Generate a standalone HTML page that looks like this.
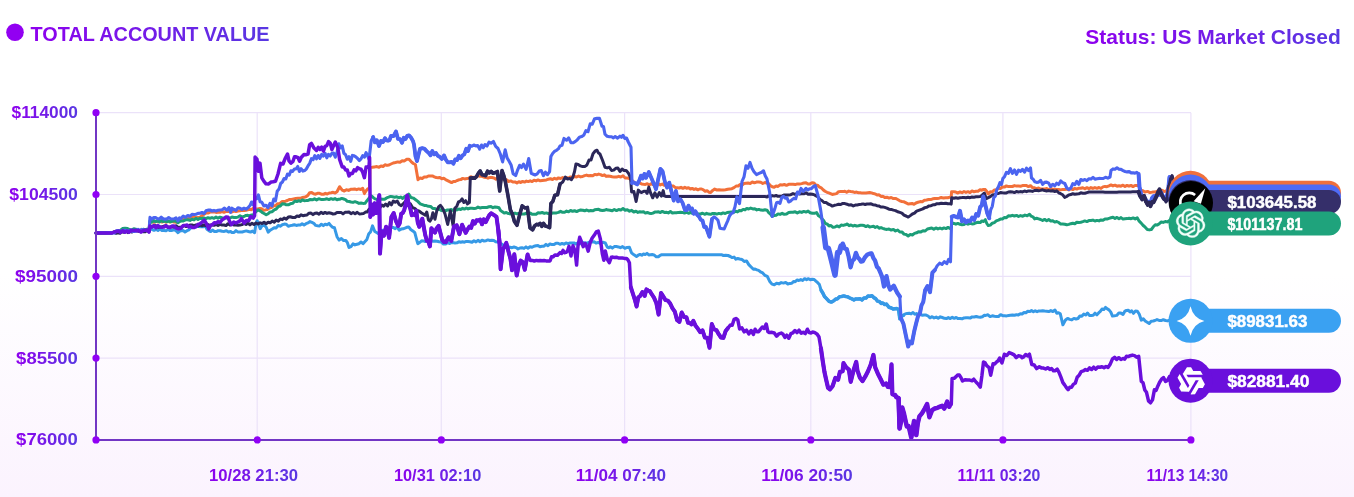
<!DOCTYPE html>
<html><head><meta charset="utf-8"><style>
html,body{margin:0;padding:0;width:1354px;height:497px;overflow:hidden;background:#fff;}
svg{display:block;}
text{font-family:"Liberation Sans",sans-serif;font-weight:bold;}
</style></head><body>
<svg width="1354" height="497" viewBox="0 0 1354 497">
<defs>
<linearGradient id="bg" x1="0" y1="0" x2="0" y2="1">
<stop offset="0" stop-color="#ffffff"/><stop offset="0.55" stop-color="#ffffff"/><stop offset="1" stop-color="#fbf3fe"/>
</linearGradient>
<linearGradient id="tg" x1="0" y1="0" x2="1" y2="0">
<stop offset="0" stop-color="#8e00ee"/><stop offset="1" stop-color="#5838e2"/>
</linearGradient>
</defs>
<rect width="1354" height="497" fill="url(#bg)"/>
<circle cx="15" cy="32.3" r="8.8" fill="#9200f2"/>
<text x="30.6" y="40.8" font-size="19.5" fill="url(#tg)" textLength="239" lengthAdjust="spacingAndGlyphs">TOTAL ACCOUNT VALUE</text>
<text x="1085.3" y="44" font-size="20.5" fill="url(#tg)" textLength="255.5" lengthAdjust="spacingAndGlyphs">Status: US Market Closed</text>
<g stroke="#ebe2f9" stroke-width="1.2"><line x1="96" y1="112.7" x2="1191" y2="112.7"/><line x1="96" y1="194.5" x2="1191" y2="194.5"/><line x1="96" y1="276.3" x2="1191" y2="276.3"/><line x1="96" y1="358.1" x2="1191" y2="358.1"/><line x1="257.2" y1="112.7" x2="257.2" y2="439.9"/><line x1="441.3" y1="112.7" x2="441.3" y2="439.9"/><line x1="624.6" y1="112.7" x2="624.6" y2="439.9"/><line x1="810.8" y1="112.7" x2="810.8" y2="439.9"/><line x1="1002.9" y1="112.7" x2="1002.9" y2="439.9"/><line x1="1190.9" y1="112.7" x2="1190.9" y2="439.9"/></g>
<g fill="url(#tg)" font-size="17"><text x="77.9" y="118.1" text-anchor="end" textLength="66.3" lengthAdjust="spacingAndGlyphs">$114000</text><text x="77.9" y="199.9" text-anchor="end" textLength="68.6" lengthAdjust="spacingAndGlyphs">$104500</text><text x="77.9" y="281.7" text-anchor="end" textLength="63.0" lengthAdjust="spacingAndGlyphs">$95000</text><text x="77.9" y="363.5" text-anchor="end" textLength="61.8" lengthAdjust="spacingAndGlyphs">$85500</text><text x="77.9" y="445.3" text-anchor="end" textLength="61.8" lengthAdjust="spacingAndGlyphs">$76000</text></g>
<g fill="url(#tg)" font-size="16.5"><text x="253.5" y="480.7" text-anchor="middle" textLength="89.0" lengthAdjust="spacingAndGlyphs">10/28 21:30</text><text x="437.6" y="480.7" text-anchor="middle" textLength="87.4" lengthAdjust="spacingAndGlyphs">10/31 02:10</text><text x="620.8" y="480.7" text-anchor="middle" textLength="90.3" lengthAdjust="spacingAndGlyphs">11/04 07:40</text><text x="807.0" y="480.7" text-anchor="middle" textLength="91.5" lengthAdjust="spacingAndGlyphs">11/06 20:50</text><text x="998.9" y="480.7" text-anchor="middle" textLength="82.8" lengthAdjust="spacingAndGlyphs">11/11 03:20</text><text x="1187.3" y="480.7" text-anchor="middle" textLength="81.6" lengthAdjust="spacingAndGlyphs">11/13 14:30</text></g>
<g fill="none" stroke-width="3.0" stroke-linejoin="round" stroke-linecap="round"><path d="M96.0 233.0L98.0 233.0L100.0 233.0L102.0 233.0L104.0 233.0L106.0 233.0L108.0 233.0L110.0 233.0L112.0 233.0L114.0 232.3L116.0 232.8L118.0 231.9L120.0 231.8L122.0 231.1L124.0 231.1L126.0 231.0L128.0 231.4L130.0 231.3L131.9 231.3L133.8 230.1L135.7 230.9L137.6 229.7L139.5 230.8L141.4 229.3L143.3 230.3L145.2 229.5L147.1 230.4L149.0 230.0L150.0 229.2L152.0 229.3L154.0 230.3L156.0 229.3L158.0 230.4L160.0 229.0L162.0 230.6L164.0 230.6L166.0 230.8L168.0 229.5L170.0 230.6L172.0 230.4L174.0 229.6L176.0 230.6L178.0 232.6L179.5 231.3L181.0 230.7L183.0 230.4L185.0 232.0L187.0 230.7L189.0 229.8L191.5 227.3L194.0 225.9L196.2 225.7L198.5 226.6L200.8 226.7L203.0 226.8L205.2 225.8L207.0 229.3L208.8 230.6L210.7 231.6L212.5 230.1L214.4 231.4L216.3 231.6L218.1 230.7L220.0 230.7L222.1 231.3L224.2 231.4L226.4 230.7L228.5 232.0L230.6 231.5L232.0 232.6L234.0 232.5L236.0 230.6L238.1 232.1L240.1 231.9L242.2 232.0L244.3 231.4L246.3 230.9L248.4 231.5L250.5 232.1L252.5 231.1L254.6 232.7L256.0 223.6L257.1 220.7L258.6 224.2L260.2 228.7L262.2 225.5L264.2 225.2L266.2 227.2L268.2 232.1L270.2 230.2L272.2 229.0L274.2 227.7L276.2 227.9L278.2 225.5L280.2 226.2L282.3 224.7L284.3 224.1L286.3 224.2L288.3 226.3L290.3 225.6L292.3 225.2L294.3 224.7L296.3 225.4L298.3 225.1L300.2 225.1L302.1 223.7L304.1 225.0L306.0 223.7L308.0 222.9L310.0 221.6L311.9 222.4L313.8 223.3L315.7 225.4L317.6 225.8L319.5 226.0L321.4 224.2L323.3 225.6L325.2 224.2L327.1 224.7L329.0 223.4L330.8 225.7L332.7 227.3L334.5 227.8L337.0 236.7L339.2 240.1L341.4 238.6L343.6 240.6L345.8 240.5L347.4 242.7L349.0 247.5L351.0 246.6L353.0 243.8L355.0 244.9L357.0 244.3L359.0 243.7L361.0 242.0L363.0 243.7L365.0 241.5L366.9 239.4L368.8 233.7L370.6 231.9L372.5 225.9L374.8 231.5L377.0 232.7L378.9 233.9L380.8 231.4L382.7 230.3L384.6 230.8L386.7 228.7L388.8 227.8L391.0 227.4L393.1 227.4L395.2 228.6L397.2 226.9L399.2 230.1L401.2 229.1L403.1 228.8L404.9 228.1L406.8 227.3L408.7 226.9L410.7 229.5L412.8 230.9L414.8 232.7L416.3 238.4L417.8 243.7L419.7 242.5L421.6 240.8L423.4 240.9L425.3 241.6L427.2 240.6L429.2 240.3L431.1 240.6L433.1 241.2L435.0 241.1L437.1 241.2L439.2 241.7L441.4 242.1L443.5 244.1L445.6 244.1L447.5 242.6L449.4 243.5L451.3 242.7L453.1 242.6L455.0 243.0L456.9 242.8L458.8 241.8L460.7 242.3L462.6 241.8L464.4 242.2L466.3 241.4L468.1 241.5L470.0 241.7L472.0 242.3L474.0 240.8L476.0 241.9L478.0 240.3L480.0 241.8L482.0 240.2L484.0 241.0L486.0 240.7L487.9 239.9L489.9 240.5L491.8 240.2L493.8 240.5L495.7 241.7L497.8 242.0L499.9 243.3L502.0 244.1L504.0 246.0L506.0 245.0L508.0 246.7L510.0 247.2L512.0 247.7L514.0 247.0L516.0 247.6L518.0 248.9L520.0 248.0L522.0 247.7L524.0 248.4L526.0 246.9L528.0 248.2L530.0 246.8L532.0 247.3L534.0 246.2L536.0 245.7L538.0 245.6L540.0 246.7L542.0 246.3L544.0 246.2L546.0 244.4L548.0 245.7L550.0 243.9L552.0 244.6L554.0 244.6L556.0 243.2L558.0 243.2L560.0 244.3L562.0 243.4L564.0 244.2L566.0 242.9L568.0 243.6L570.0 243.0L572.0 242.9L574.0 242.9L576.0 244.1L578.0 242.7L580.0 243.8L582.0 242.3L584.0 242.9L586.0 242.9L588.0 242.7L590.0 241.9L592.1 241.9L594.1 241.8L596.2 243.1L598.2 242.4L600.3 243.4L602.8 242.3L605.3 243.0L607.3 247.1L608.8 247.8L610.3 246.8L612.3 248.1L614.3 246.6L616.4 246.6L618.4 246.9L620.4 247.7L622.6 246.6L624.9 248.3L627.1 247.4L629.4 247.2L631.5 252.8L634.0 254.8L636.5 256.4L638.2 255.2L640.0 254.4L641.8 255.2L643.5 254.0L645.2 254.6L647.0 253.4L648.8 254.9L650.5 254.7L652.2 254.6L654.0 254.9L656.3 256.8L658.6 256.7L659.7 255.6L661.7 254.7L663.7 254.7L665.7 254.7L667.7 254.7L669.7 254.7L671.6 254.7L673.6 254.7L675.6 254.7L677.6 254.7L679.6 254.7L681.6 254.7L683.6 254.7L685.6 254.7L687.6 254.7L689.6 254.7L691.5 254.7L693.5 254.7L695.5 254.7L697.5 254.7L699.5 254.7L701.5 254.7L703.5 254.7L705.5 254.7L707.5 254.7L709.5 254.7L711.5 254.7L713.4 254.7L715.4 254.7L717.4 254.7L719.4 254.7L721.4 254.7L723.4 255.5L725.7 255.3L728.0 255.5L730.3 256.5L732.2 257.6L734.0 257.1L735.9 259.2L737.7 258.5L739.6 259.0L741.9 259.4L744.2 261.5L746.5 260.9L748.8 264.6L751.1 267.0L753.4 269.3L755.1 269.0L756.9 269.9L758.6 270.4L760.4 271.8L762.7 272.9L765.0 275.4L767.3 276.4L769.6 281.2L772.0 284.1L774.3 284.7L776.6 283.2L778.9 283.9L781.2 282.6L783.5 283.1L785.7 282.4L787.8 284.0L790.0 283.4L791.8 283.3L793.5 281.6L795.2 281.8L797.0 280.0L798.9 280.5L800.8 279.6L802.7 280.5L804.6 278.7L806.6 279.7L808.5 278.7L810.4 279.8L812.3 279.3L814.2 279.5L815.9 281.1L817.7 282.7L819.4 284.6L821.1 290.3L822.8 293.0L824.5 296.5L826.8 298.9L829.0 301.3L831.3 302.1L833.4 301.0L835.4 299.3L837.5 298.7L839.5 296.7L841.6 296.5L843.7 295.9L845.7 296.5L847.8 296.9L849.8 298.0L851.9 298.9L853.9 299.9L855.9 298.9L858.0 298.9L860.0 298.7L862.0 299.9L864.0 297.9L866.0 298.1L868.0 296.0L870.0 296.3L872.0 295.8L873.8 297.6L875.6 298.6L877.5 301.1L879.3 301.5L881.1 303.4L882.9 303.1L884.7 304.5L886.5 304.1L889.0 307.3L891.4 308.0L893.2 309.1L895.0 308.8L896.8 308.6L898.6 309.4L899.8 318.7L901.6 316.0L903.4 315.3L905.3 313.9L907.2 313.4L909.2 313.2L911.1 313.9L913.0 312.5L914.8 314.3L916.6 313.5L918.5 314.5L920.3 314.0L922.2 315.2L924.2 315.0L926.1 315.1L928.1 316.0L930.0 317.8L932.1 316.7L934.1 317.9L936.2 317.1L938.2 318.3L940.3 316.8L942.3 317.5L944.4 318.3L946.4 318.6L948.3 317.6L950.3 318.6L952.3 317.3L954.2 318.3L956.2 317.5L958.1 318.6L960.1 318.5L962.1 318.8L964.0 317.9L966.0 317.8L968.0 317.7L970.1 318.1L972.1 316.9L974.2 317.0L976.2 316.5L978.3 317.0L980.3 317.2L982.4 316.7L984.4 315.2L985.8 315.4L988.0 314.8L990.1 316.6L992.3 315.8L994.4 316.3L996.5 316.6L998.5 316.5L1000.6 314.7L1002.7 315.7L1004.7 315.8L1006.6 315.9L1008.6 315.5L1010.5 315.2L1012.5 314.9L1014.5 315.2L1016.4 314.7L1018.4 314.9L1020.3 313.8L1022.1 314.0L1024.0 312.5L1025.9 312.7L1027.8 311.2L1029.6 311.6L1031.5 310.6L1033.4 311.8L1035.2 310.8L1037.1 311.7L1039.0 310.9L1040.9 311.1L1042.7 310.8L1044.6 311.1L1046.7 311.3L1048.8 311.6L1050.8 310.6L1052.9 311.5L1055.0 310.0L1056.8 313.2L1058.5 312.7L1060.3 313.8L1062.9 324.8L1065.5 320.0L1067.6 318.4L1069.7 319.4L1071.8 319.9L1073.9 318.4L1076.0 319.0L1078.0 318.5L1079.9 315.9L1081.8 316.3L1083.8 314.1L1085.7 315.0L1087.5 313.0L1089.4 315.4L1091.3 315.4L1093.2 315.2L1095.0 313.2L1096.9 314.8L1098.6 312.9L1100.3 311.4L1102.0 309.0L1103.8 309.6L1105.5 307.4L1107.3 308.9L1109.0 309.8L1110.8 312.1L1112.5 316.1L1114.6 315.8L1116.7 315.4L1118.8 313.1L1120.9 313.1L1123.0 314.4L1124.7 311.4L1126.5 310.4L1128.2 310.2L1130.0 311.9L1131.7 310.8L1133.5 313.3L1135.5 311.1L1137.4 311.2L1139.3 314.3L1141.3 320.2L1143.3 318.8L1145.2 321.0L1147.2 322.2L1149.2 323.5L1151.2 321.2L1153.1 321.0L1155.0 320.5L1157.0 319.6L1159.1 320.4L1161.2 320.6L1163.3 319.7L1165.4 320.5L1167.5 320.9L1169.4 320.3L1171.2 320.6L1173.1 320.7L1175.0 319.6" stroke="#3699e6"/><path d="M821.1 290.3L822.8 293.0L824.5 296.5L826.8 298.9L829.0 301.3L831.3 302.1L833.4 301.0L835.4 299.3L837.5 298.7L839.5 296.7L841.6 296.5L843.7 295.9L845.7 296.5L847.8 296.9L849.8 298.0L851.9 298.9L853.9 299.9L855.9 298.9L858.0 298.9L860.0 298.7L862.0 299.9L864.0 297.9L866.0 298.1L868.0 296.0L870.0 296.3L872.0 295.8L873.8 297.6L875.6 298.6L877.5 301.1L879.3 301.5L881.1 303.4L882.9 303.1L884.7 304.5L886.5 304.1L889.0 307.3L891.4 308.0L893.2 309.1L895.0 308.8L896.8 308.6L898.6 309.4L899.8 318.7L901.6 316.0L903.4 315.3" stroke="#3699e6" stroke-width="3.5"/><path d="M96.0 233.0L98.0 232.9L100.0 232.9L102.0 232.8L104.0 232.8L106.0 232.7L108.0 232.6L110.0 232.6L112.0 232.5L114.0 232.1L116.0 231.6L118.0 231.3L120.0 231.8L122.0 231.1L124.0 230.5L126.0 230.4L128.0 230.1L130.0 230.1L131.9 230.8L133.8 230.2L135.7 230.5L137.6 229.7L139.5 230.9L141.4 229.9L143.3 230.5L145.2 229.7L147.1 230.5L149.0 229.7L150.0 221.7L152.0 221.3L154.0 222.3L156.0 221.3L158.0 221.9L160.0 221.0L162.0 222.1L164.0 220.9L166.0 222.2L168.0 221.0L170.0 222.1L172.0 221.3L174.0 222.1L176.0 222.3L178.5 220.1L181.0 219.7L183.2 219.0L185.5 218.7L187.8 218.7L190.0 217.4L192.0 217.2L194.0 216.8L196.0 217.7L198.0 217.4L200.0 217.2L202.0 215.8L204.0 214.3L206.0 212.9L208.0 213.1L210.0 212.1L212.0 212.1L214.0 211.9L216.0 212.4L218.0 212.2L220.0 212.3L222.0 211.5L224.0 212.3L226.0 211.4L228.0 211.6L230.0 211.4L232.0 212.0L234.0 211.1L236.0 211.5L238.0 211.0L240.0 210.8L242.0 210.3L244.0 210.5L246.0 210.2L247.8 209.8L249.5 209.1L251.2 209.8L253.0 208.3L255.5 209.0L258.0 209.0L259.8 208.4L261.6 208.8L263.5 210.2L265.3 209.9L267.3 209.5L269.4 208.1L271.4 207.5L273.5 205.8L275.5 205.8L277.7 203.7L279.8 203.6L282.0 201.5L283.8 201.6L285.6 201.2L287.4 200.5L289.2 199.6L291.4 199.4L293.6 199.0L295.8 198.6L298.0 198.3L300.1 198.3L302.1 197.6L304.2 197.3L306.3 196.5L308.0 195.2L309.7 192.7L311.7 192.6L313.6 193.8L315.6 194.2L317.5 193.3L319.5 193.3L321.4 194.2L323.4 194.3L325.3 193.3L327.3 194.0L329.2 193.0L331.2 192.7L333.1 192.3L335.1 193.0L337.0 191.8L339.6 186.7L342.2 190.1L344.3 191.0L346.4 189.7L348.6 190.4L350.7 189.3L352.7 189.3L354.7 189.0L356.7 189.7L358.7 188.9L360.7 189.5L362.7 188.3L364.4 193.6L366.1 190.7L367.8 188.8L369.5 188.9L370.0 167.4L372.2 167.3L374.5 166.9L376.8 166.6L379.0 167.3L381.0 165.9L383.0 166.5L385.0 164.8L387.0 165.4L389.0 165.0L391.0 164.0L393.2 163.0L395.5 162.5L397.8 161.9L400.0 162.3L402.2 160.7L404.5 160.9L406.8 159.2L409.0 159.3L411.1 161.6L413.3 163.5L415.4 164.5L418.0 179.7L420.1 178.0L422.2 178.5L424.2 177.1L426.3 177.1L428.4 176.0L430.5 176.1L432.4 175.9L434.3 176.8L436.2 177.5L438.1 177.7L439.9 177.4L441.8 178.7L443.7 178.3L445.6 179.6L447.6 180.6L449.6 181.6L451.6 182.6L453.4 181.5L455.2 181.5L457.1 180.5L458.9 179.8L460.7 179.6L462.7 178.4L464.7 178.9L466.8 178.6L468.8 178.2L470.8 176.7L472.8 177.6L474.6 177.3L476.4 177.1L478.2 175.6L480.0 176.3L482.0 176.3L484.0 177.2L486.0 177.4L488.0 178.2L490.0 177.4L492.0 177.6L494.0 177.9L496.0 179.2L498.0 178.4L500.0 179.2L502.0 178.7L504.2 179.3L506.3 179.6L508.5 181.5L510.7 180.9L512.8 182.0L515.0 181.9L516.9 182.9L518.8 181.7L520.7 182.5L522.6 181.4L524.5 182.1L526.4 181.1L528.3 181.6L530.2 180.8L532.1 181.6L534.0 180.2L536.1 180.9L538.1 179.9L540.2 180.8L542.2 180.5L544.3 180.2L546.4 179.9L548.4 179.2L550.5 178.7L552.5 179.6L554.5 178.3L556.5 179.1L558.5 177.9L560.6 178.5L562.6 177.6L564.6 178.0L566.6 177.8L568.6 178.1L570.6 176.9L572.6 177.6L574.6 176.5L576.6 177.0L578.6 176.0L580.6 176.9L582.6 176.5L584.6 175.6L586.6 175.1L588.6 175.8L590.7 175.6L592.7 175.7L594.7 174.4L596.7 174.8L598.7 174.1L600.6 174.6L602.5 175.6L604.4 174.8L606.2 176.4L608.1 176.0L610.0 176.2L612.2 176.7L614.3 177.1L616.5 177.1L618.7 176.3L620.8 177.0L623.0 175.8L625.2 178.0L627.4 178.0L629.6 178.5L631.7 180.1L633.9 182.2L636.0 183.6L637.9 183.4L639.8 182.9L641.7 184.1L643.5 184.3L645.4 184.4L647.3 183.7L649.2 184.9L651.1 183.7L652.9 184.6L654.8 185.0L656.7 184.9L658.6 183.8L660.4 184.9L662.3 184.0L664.2 185.3L666.0 184.5L667.9 186.1L669.8 185.5L671.7 185.9L673.5 186.1L675.4 187.6L677.3 187.8L679.1 188.0L681.0 187.3L682.9 188.3L684.8 187.3L686.6 188.3L688.5 187.7L690.4 189.0L692.2 188.4L694.1 189.4L696.0 188.8L697.9 189.8L699.7 189.0L701.6 189.0L703.4 189.8L705.2 191.3L707.1 190.7L708.9 192.2L710.7 192.4L712.7 190.4L714.7 189.1L716.9 190.0L719.0 189.8L721.2 189.9L723.4 190.1L725.5 189.8L727.7 189.3L729.8 189.0L731.9 188.7L734.0 187.6L736.1 186.1L738.2 186.0L740.2 184.4L742.1 185.0L744.0 183.5L746.0 183.2L748.1 183.1L750.2 183.4L752.3 182.0L754.4 182.8L756.5 182.1L758.6 181.9L760.7 182.2L762.8 183.5L764.9 182.5L767.0 183.2L768.7 183.6L770.5 185.8L772.2 186.7L774.2 187.3L776.1 186.1L778.0 186.4L780.0 184.8L782.2 185.1L784.3 184.5L786.5 185.3L788.7 184.3L790.8 184.3L793.0 184.3L795.2 184.6L797.3 183.9L799.5 184.1L801.7 183.6L803.8 183.0L806.0 182.8L808.0 184.1L810.0 183.9L812.0 182.8L814.0 183.0L815.7 184.9L817.5 185.2L819.2 186.8L821.2 187.8L823.1 189.7L825.0 191.2L827.0 192.3L828.8 192.9L830.5 193.6L832.3 194.4L834.4 194.1L836.5 193.6L838.6 191.7L840.7 191.6L842.8 191.6L844.8 191.2L846.7 192.3L848.7 191.1L850.6 191.5L852.6 191.8L854.6 192.4L856.5 192.1L858.5 192.7L860.4 192.7L862.2 193.1L864.1 193.1L866.0 193.1L867.9 192.8L869.7 192.5L871.6 192.9L873.5 193.6L875.3 193.9L877.2 195.1L879.1 194.8L881.0 196.4L882.8 196.3L884.7 197.4L886.9 197.2L889.0 198.1L891.2 197.5L893.4 198.6L895.5 198.4L897.7 199.5L899.8 200.8L901.9 201.5L904.0 201.8L906.1 202.9L908.2 204.0L910.2 203.7L912.1 203.4L914.0 204.3L916.0 203.0L918.1 202.2L920.2 201.6L922.3 201.7L924.4 200.3L926.5 200.0L928.6 199.5L930.7 199.6L932.8 198.8L934.9 198.5L937.0 198.4L939.2 198.2L941.3 197.5L943.5 198.1L945.7 197.7L947.8 197.8L950.0 197.1L951.2 197.5L951.6 191.7L953.7 191.8L955.8 192.1L957.9 193.0L960.0 191.9L962.0 192.7L964.0 191.5L966.0 192.4L968.0 191.7L970.0 192.6L972.0 190.9L974.0 191.8L976.0 191.3L978.0 191.2L980.0 189.8L981.8 190.2L983.5 189.4L985.3 189.6L986.8 191.5L988.3 193.9L990.3 191.8L992.3 191.9L994.3 190.0L996.3 189.7L998.4 188.3L1000.4 188.5L1002.4 187.0L1004.4 187.1L1006.4 185.9L1008.4 186.6L1010.4 186.6L1012.4 186.5L1014.5 185.6L1016.5 186.1L1018.5 186.1L1020.5 186.2L1022.5 185.6L1024.5 185.5L1026.5 185.6L1028.5 186.6L1030.5 185.7L1032.5 187.6L1034.6 187.8L1036.6 188.6L1038.6 188.0L1040.6 189.0L1042.7 189.0L1044.7 189.1L1046.7 188.5L1048.7 189.8L1050.7 188.6L1052.7 189.2L1054.7 189.2L1056.7 189.4L1058.7 189.4L1060.7 189.9L1062.7 189.4L1064.7 189.5L1066.8 189.1L1068.8 190.0L1070.8 188.8L1072.8 189.6L1074.8 188.4L1076.8 189.1L1078.8 188.2L1080.8 188.3L1082.8 187.7L1084.8 188.8L1086.9 187.7L1088.9 188.7L1090.9 187.6L1092.9 188.4L1094.9 187.6L1097.0 188.3L1099.0 187.5L1101.0 188.4L1103.0 186.9L1105.0 186.4L1107.0 186.7L1109.0 185.9L1111.0 184.9L1113.0 185.9L1115.0 185.2L1117.0 186.2L1119.0 185.8L1121.0 186.2L1123.0 185.2L1125.0 186.5L1127.0 185.4L1129.0 186.2L1131.0 185.4L1133.0 186.6L1135.0 185.5L1137.0 185.6L1139.0 185.5L1140.0 191.1L1142.5 190.6L1145.0 192.0L1147.5 191.4L1150.0 192.6L1152.5 192.1L1155.0 192.1L1157.5 191.0L1160.0 191.5L1162.0 190.3L1164.0 191.4L1166.0 191.3L1168.0 188.4L1170.0 184.2L1172.0 185.1L1174.0 184.6L1176.0 186.2" stroke="#f2703a"/><path d="M96.0 233.0L98.0 232.9L100.0 232.9L102.0 232.8L104.0 232.8L106.0 232.7L108.0 232.6L110.0 232.6L112.0 232.5L114.0 232.1L116.0 231.5L118.0 230.9L120.0 230.7L122.5 228.6L125.0 228.3L127.5 228.6L130.0 229.9L131.9 229.9L133.8 228.8L135.7 229.2L137.6 230.0L139.5 230.4L141.4 230.5L143.3 229.2L145.2 229.9L147.1 229.1L149.0 230.5L150.0 220.9L151.9 222.1L153.8 220.5L155.6 221.7L157.5 221.0L159.4 222.0L161.2 220.6L163.1 221.6L165.0 221.0L166.8 221.7L168.7 221.1L170.5 221.8L172.3 221.2L174.2 220.8L176.0 221.2L178.0 222.7L179.5 221.6L181.0 221.0L183.2 221.0L185.5 219.8L187.8 219.7L190.0 220.4L192.0 219.2L194.0 219.9L196.0 218.3L198.0 219.6L200.0 218.3L202.0 218.7L204.0 218.0L206.0 218.7L208.0 217.7L210.0 218.2L212.0 217.6L214.0 218.3L216.0 217.1L218.0 218.2L220.0 217.2L222.0 217.8L224.0 218.3L226.0 218.1L228.0 218.0L230.0 218.0L232.0 217.1L234.0 217.4L236.0 217.5L238.0 217.1L240.0 215.8L242.0 217.0L244.0 216.5L246.0 215.4L247.8 215.3L249.5 216.0L251.2 214.9L253.0 215.3L254.7 213.1L256.4 211.2L258.1 209.8L261.0 211.3L262.7 212.8L264.5 213.8L266.2 214.8L268.2 213.7L270.2 211.9L272.2 211.7L274.2 209.8L276.2 209.0L278.2 206.7L280.3 206.0L282.3 203.8L284.3 203.9L286.3 204.8L288.3 204.8L290.3 203.8L292.6 203.3L295.0 201.0L296.8 201.6L298.7 200.7L300.5 201.5L302.3 199.9L304.2 200.7L306.0 200.6L308.1 200.4L310.2 199.5L312.4 199.8L314.5 198.8L316.6 199.9L318.8 198.7L320.9 199.4L323.0 199.4L325.0 199.3L327.0 198.8L329.0 199.6L331.0 198.7L333.0 199.4L335.0 198.6L337.0 199.7L338.5 199.3L340.0 199.2L341.8 198.4L343.7 199.0L345.5 199.6L347.3 201.3L349.2 201.5L351.0 202.0L353.0 202.4L355.0 201.7L357.0 202.4L359.0 203.4L361.0 203.0L363.0 203.4L365.0 203.3L367.0 200.7L369.0 198.3L371.0 195.8L373.0 197.3L375.0 198.9L377.0 199.4L378.9 200.4L380.8 199.0L382.7 199.2L384.6 199.3L386.6 197.9L388.6 197.2L390.6 196.4L392.6 196.8L394.7 197.2L396.7 196.8L398.7 197.7L400.7 197.1L402.7 198.5L404.7 196.6L406.7 196.4L408.7 194.2L411.0 197.5L413.3 198.1L415.6 199.7L417.8 201.4L420.1 203.8L422.3 204.6L424.3 205.4L426.4 205.6L428.4 206.3L430.6 206.4L432.8 208.5L435.0 208.5L437.1 209.8L439.2 209.2L441.4 210.6L443.5 210.0L445.6 210.9L447.5 209.9L449.4 209.9L451.3 209.5L453.1 210.5L455.0 208.8L456.9 209.9L458.8 209.0L460.7 209.5L462.6 208.3L464.4 209.1L466.3 208.0L468.1 208.9L470.0 208.3L472.0 208.3L474.0 208.4L476.0 208.2L478.0 207.1L480.0 207.9L482.2 207.6L484.5 207.6L486.8 207.5L489.0 206.8L491.0 206.6L493.0 207.7L495.0 206.9L497.0 207.2L499.0 207.8L500.5 210.4L502.0 211.6L504.2 213.1L506.3 212.5L508.5 213.6L510.7 213.9L512.8 213.7L515.0 213.1L516.9 213.8L518.8 213.4L520.7 214.0L522.6 214.1L524.5 214.0L526.4 213.2L528.3 214.2L530.2 213.1L532.1 214.3L534.0 214.2L536.1 214.2L538.1 212.8L540.2 213.0L542.2 212.5L544.3 213.4L546.4 212.9L548.4 213.7L550.5 213.8L552.5 213.1L554.5 213.0L556.5 212.9L558.5 212.4L560.6 211.3L562.6 212.3L564.6 212.2L566.6 211.1L568.6 211.8L570.6 210.5L572.6 211.3L574.6 210.7L576.6 211.6L578.6 210.6L580.6 210.0L582.7 210.2L584.7 210.8L586.7 210.0L588.7 210.9L590.7 210.6L592.7 210.8L594.7 209.8L596.7 209.5L598.7 209.3L600.6 210.3L602.5 210.6L604.4 210.3L606.2 209.5L608.1 210.1L610.0 210.2L612.2 210.8L614.3 209.5L616.5 210.6L618.7 209.5L620.8 210.1L623.0 208.5L625.2 210.2L627.3 209.7L629.5 211.2L631.7 210.3L633.8 212.0L636.0 211.3L637.9 212.4L639.8 211.7L641.7 211.9L643.5 211.7L645.4 213.1L647.3 212.5L649.2 213.2L651.1 213.5L652.9 213.1L654.8 212.1L656.7 212.1L658.6 211.8L660.4 212.5L662.3 211.4L664.3 212.4L666.3 212.3L668.3 212.9L670.4 211.5L672.4 213.0L674.4 212.8L676.4 212.8L678.4 212.4L680.4 212.3L682.5 212.4L684.5 213.1L686.5 212.2L688.5 213.3L690.5 212.3L692.5 213.4L694.5 212.5L696.6 213.6L698.6 213.9L700.6 214.0L702.6 213.2L704.6 214.3L706.6 213.3L708.7 214.1L710.7 214.3L712.7 213.4L714.7 213.5L716.8 214.1L718.9 213.4L721.0 213.9L723.1 212.9L725.2 213.5L727.2 212.5L729.3 212.2L731.4 212.0L733.5 212.5L735.6 211.3L737.5 211.9L739.3 210.5L741.2 210.8L743.1 209.4L745.0 209.9L746.8 208.4L748.7 209.0L750.7 208.1L752.8 208.9L754.8 208.7L756.8 209.9L758.9 209.4L760.9 210.1L762.9 210.3L765.0 209.8L767.0 210.2L768.7 212.6L770.5 214.2L772.2 216.4L774.2 215.5L776.1 215.2L778.0 213.9L780.0 214.4L782.2 213.3L784.3 214.3L786.5 214.0L788.7 212.6L790.8 212.3L793.0 212.3L795.2 211.8L797.3 212.9L799.5 211.8L801.7 212.4L803.8 211.4L806.0 212.1L808.1 211.1L810.2 212.7L812.4 213.3L814.5 213.3L816.6 212.6L818.4 215.7L820.1 216.6L821.9 218.7L823.6 220.6L825.3 223.6L827.0 223.9L829.0 225.9L831.0 225.6L833.0 227.3L835.0 227.0L837.1 225.9L839.2 226.9L841.2 225.0L843.3 225.4L845.4 224.8L847.3 224.0L849.1 225.7L851.0 225.0L852.9 226.0L854.8 225.3L856.6 226.0L858.5 225.7L860.4 225.2L862.2 225.3L864.1 225.6L866.0 226.6L867.9 225.7L869.7 227.0L871.6 226.6L873.5 226.2L875.3 227.4L877.2 226.5L879.1 228.2L881.0 227.6L882.8 228.4L884.7 229.0L886.9 229.4L889.0 229.0L891.2 230.1L893.4 229.4L895.5 231.0L897.7 230.0L899.8 232.0L901.9 231.9L904.0 234.1L906.1 234.5L908.2 236.0L910.3 234.4L912.4 235.0L914.5 233.4L916.6 232.8L918.7 231.7L920.9 231.9L923.0 230.7L925.2 231.0L927.4 229.0L929.5 228.5L931.7 228.0L933.8 229.3L935.9 227.9L937.9 228.9L940.0 228.1L942.0 228.9L944.0 227.9L946.0 228.6L948.0 227.4L950.0 228.5L951.2 227.4L951.7 223.9L953.8 223.3L955.9 224.2L957.9 223.4L960.0 224.3L962.0 224.7L964.0 224.6L966.0 223.3L968.0 224.2L970.0 223.3L972.0 223.9L974.1 223.7L976.1 222.7L978.2 222.2L980.2 222.6L981.9 220.9L983.6 221.5L985.3 219.7L986.8 223.5L988.3 225.6L990.3 225.1L992.3 223.2L994.3 222.6L996.3 220.9L998.4 220.1L1000.4 219.1L1002.4 218.9L1004.4 217.6L1006.4 217.7L1008.4 215.8L1010.4 216.0L1012.4 215.3L1014.4 216.0L1016.5 215.4L1018.5 216.5L1020.5 215.6L1022.8 216.2L1025.0 215.1L1027.2 215.7L1029.5 214.2L1031.2 216.2L1032.9 216.8L1034.6 218.9L1036.6 218.3L1038.6 218.9L1040.6 219.5L1042.6 220.5L1044.6 219.4L1046.7 220.7L1048.7 219.6L1050.7 221.0L1052.7 220.8L1054.7 222.1L1056.7 221.5L1058.7 222.5L1060.7 224.1L1062.7 223.9L1064.8 224.2L1066.8 224.8L1068.8 224.4L1070.8 223.7L1072.8 223.2L1074.8 223.8L1076.8 222.3L1078.8 222.5L1080.8 222.2L1082.8 221.6L1084.8 220.9L1086.9 221.6L1088.9 220.6L1090.9 220.5L1092.9 220.1L1094.9 221.0L1097.0 220.4L1099.0 220.9L1101.0 219.9L1103.0 220.2L1105.0 218.9L1107.0 219.1L1109.0 218.4L1111.0 217.8L1113.0 217.2L1115.0 218.5L1117.0 217.4L1119.0 218.7L1121.0 217.6L1123.0 219.1L1125.0 218.8L1127.1 218.6L1129.1 218.2L1131.1 218.7L1133.2 217.9L1135.2 218.9L1137.2 217.8L1139.2 221.2L1141.2 223.1L1143.2 225.5L1145.2 227.2L1147.3 229.5L1149.3 229.9L1151.3 229.5L1153.3 226.8L1155.3 224.8L1157.3 225.1L1159.3 223.7L1161.3 222.0L1163.3 222.4L1165.3 221.5L1167.4 221.9L1169.4 220.6L1171.3 221.8L1173.1 221.2L1175.0 222.5" stroke="#1c9e78"/><path d="M96.0 233.0L98.0 233.0L100.0 233.0L102.0 233.0L104.0 233.0L106.0 233.0L108.0 233.0L110.0 233.0L112.0 233.0L114.0 231.9L116.0 233.3L118.0 232.8L120.0 233.2L122.0 231.8L124.0 232.2L126.0 230.9L128.0 232.6L130.0 231.3L131.9 232.0L133.8 230.6L135.7 230.5L137.6 231.0L139.5 231.5L141.4 230.4L143.3 231.7L145.2 231.7L147.1 230.3L149.0 231.7L150.0 227.1L152.0 226.3L154.0 225.6L156.0 225.7L158.0 227.2L160.0 226.9L162.0 226.9L164.0 226.0L166.0 226.0L168.0 227.2L170.0 227.1L172.0 227.1L174.0 226.9L176.0 225.7L178.0 227.4L180.0 227.2L182.0 227.0L184.0 225.2L186.0 226.6L188.0 226.1L190.0 225.0L192.0 225.0L194.0 225.6L196.0 224.9L198.0 226.1L200.0 225.0L202.0 225.8L204.0 224.8L206.0 225.8L208.0 224.5L210.0 225.5L212.0 224.7L214.0 225.3L216.0 224.5L218.0 225.5L220.0 224.4L222.0 225.0L224.0 225.0L226.0 225.6L228.0 223.7L230.0 225.1L232.0 223.5L234.0 225.1L236.0 225.1L238.0 225.2L240.0 225.1L242.0 224.6L244.0 223.5L246.0 224.5L248.0 223.2L250.0 224.9L252.0 223.2L254.0 224.5L256.0 223.0L258.1 224.0L260.1 222.8L262.1 223.5L264.1 222.2L266.1 223.7L268.2 222.2L270.2 222.8L272.2 221.0L274.2 222.2L276.2 220.1L278.3 221.1L280.3 219.0L282.3 219.7L284.3 218.0L286.3 219.1L288.3 217.1L290.3 216.8L292.6 217.5L295.0 217.5L297.0 216.0L299.0 216.5L301.0 214.8L303.0 215.7L305.0 215.3L307.0 215.0L309.0 213.2L311.0 213.1L313.0 214.6L315.0 213.2L317.0 212.9L319.0 214.2L321.0 212.2L323.0 213.6L325.0 212.4L327.0 213.4L329.0 212.7L331.0 213.2L333.0 214.0L335.0 213.8L337.0 212.5L339.0 212.4L341.0 212.4L343.0 213.9L345.0 212.3L347.0 212.3L349.0 212.0L351.0 213.7L353.1 212.5L355.1 213.7L357.2 212.4L359.3 213.9L361.4 213.8L363.4 213.6L365.5 212.1L367.3 211.9L369.2 209.1L371.0 208.2L373.2 205.6L375.5 205.6L377.8 206.0L380.0 207.5L381.9 205.0L383.8 206.1L385.7 204.0L387.6 205.9L389.5 202.5L391.4 204.8L393.3 201.0L395.2 202.2L397.2 201.1L399.2 204.5L401.2 205.7L403.4 203.7L405.7 201.0L408.0 203.5L410.3 203.7L412.6 207.8L414.8 208.4L417.1 210.5L419.3 211.2L421.6 213.0L423.8 214.3L425.3 215.2L426.8 212.0L428.4 219.8L429.9 221.2L431.4 218.8L432.9 212.7L435.0 219.2L436.8 210.8L438.6 206.9L440.4 205.3L442.2 207.7L445.0 213.9L447.7 224.5L450.4 210.8L453.1 225.8L454.9 208.1L456.7 206.5L458.5 201.9L460.3 201.2L462.1 198.9L463.9 202.5L465.7 200.7L467.5 203.9L469.4 202.5L470.3 178.1L473.0 177.9L474.8 178.3L476.6 176.4L478.4 173.2L480.2 171.0L482.0 174.7L483.8 175.1L485.6 175.7L487.5 171.1L489.3 172.9L491.1 171.3L492.9 173.3L494.7 172.8L497.4 171.5L499.7 191.0L502.0 170.6L503.6 175.0L505.2 181.0L507.8 194.7L510.4 209.9L512.4 214.0L514.4 221.5L517.0 225.3L519.6 215.0L522.2 205.8L524.8 207.9L527.4 207.4L530.0 227.8L532.6 229.9L534.6 225.9L536.6 224.3L538.3 224.9L540.1 223.3L541.8 226.4L543.5 223.3L545.3 226.0L547.0 226.4L549.6 227.7L550.9 203.5L552.8 201.5L554.8 195.3L557.5 194.8L560.0 184.1L562.7 182.0L565.3 177.1L567.6 179.0L570.0 178.6L571.5 179.7L573.0 176.6L574.5 171.8L576.0 163.9L578.2 164.4L580.4 165.9L582.6 166.6L584.7 166.6L586.9 165.0L589.0 160.1L591.0 160.0L593.0 153.7L595.0 151.2L597.0 150.2L598.5 153.1L600.0 154.1L602.5 160.2L605.0 167.2L607.2 167.9L609.4 167.3L611.6 170.5L613.7 170.1L615.8 168.3L617.9 168.1L620.0 171.5L622.1 169.0L624.1 170.6L626.2 170.6L628.3 172.9L630.5 177.5L631.6 192.0L633.9 191.6L636.1 201.5L638.3 190.1L640.0 191.9L641.6 192.5L643.8 191.2L645.5 191.3L647.1 193.4L648.8 187.1L650.5 192.7L652.7 197.8L654.9 192.8L657.1 197.2L659.3 192.6L661.5 196.1L663.2 190.6L664.3 195.9L666.3 196.6L668.3 196.6L670.3 196.6L672.4 196.6L674.4 196.6L676.4 196.6L678.4 196.6L680.4 196.6L682.4 196.6L684.4 196.6L686.5 196.6L688.5 196.6L690.5 196.6L692.5 196.6L694.5 196.6L696.5 196.6L698.5 196.6L700.5 196.6L702.6 196.6L704.6 196.6L706.6 196.6L708.6 196.6L710.6 196.6L712.6 196.6L714.6 196.6L716.7 196.6L718.7 196.6L720.7 196.6L722.7 196.6L724.7 196.6L726.7 196.6L728.7 196.6L730.8 196.6L732.8 196.6L734.8 196.6L736.8 196.6L738.8 196.6L740.8 196.6L742.8 196.6L744.8 196.6L746.9 196.6L748.9 196.6L750.9 196.6L752.9 196.6L754.9 196.6L756.9 196.6L758.9 196.6L761.0 196.6L763.0 196.6L765.0 196.6L767.0 196.9L768.7 195.9L770.5 196.6L772.2 195.6L774.2 196.1L776.1 195.5L778.0 196.3L780.0 196.3L782.2 195.9L784.3 195.0L786.5 195.1L788.7 194.9L790.8 194.7L793.0 193.6L795.2 194.4L797.3 193.5L799.5 193.9L801.7 193.7L803.8 193.8L806.0 192.8L808.1 194.2L810.2 193.9L812.4 194.3L814.5 194.9L816.6 196.1L818.4 197.4L820.1 199.6L821.9 200.5L824.0 202.5L826.1 202.6L828.1 204.0L830.2 204.8L832.3 206.1L834.4 205.3L836.5 204.9L838.6 204.3L840.7 204.5L842.8 203.4L844.9 203.6L847.0 204.2L849.1 205.1L851.2 204.8L853.3 205.9L855.3 205.1L857.2 204.9L859.2 204.6L861.1 204.3L863.1 203.9L865.1 204.5L867.0 204.0L869.0 203.9L871.0 203.8L872.9 204.7L874.9 204.9L876.9 205.7L878.8 205.9L880.8 207.0L882.7 206.9L884.7 207.4L886.9 208.1L889.0 209.2L891.2 209.4L893.4 210.1L895.5 210.6L897.7 211.8L899.8 212.4L901.9 213.1L904.0 215.1L906.1 216.0L908.2 217.1L910.3 215.6L912.4 214.0L914.5 213.2L916.6 211.2L918.7 210.4L920.8 209.6L922.8 208.9L924.9 207.6L926.9 207.2L929.0 205.9L931.0 205.7L933.0 204.8L935.0 204.7L937.0 203.7L939.2 203.8L941.3 203.3L943.5 203.4L945.7 203.2L947.8 203.8L950.0 203.7L951.2 204.1L951.7 197.8L953.8 198.3L955.9 197.8L957.9 198.2L960.0 197.7L962.0 197.6L964.0 197.4L966.0 197.7L968.0 197.2L970.0 197.7L972.0 197.0L974.0 197.2L976.0 196.8L978.0 196.8L980.0 196.6L982.1 195.1L984.3 193.0L986.3 198.7L988.3 197.7L990.3 196.7L992.3 195.1L994.3 194.8L996.3 193.7L998.4 193.5L1000.4 192.6L1002.4 192.8L1004.4 192.9L1006.4 192.9L1008.4 192.0L1010.4 191.8L1012.4 191.9L1014.4 192.6L1016.4 191.5L1018.4 192.0L1020.5 191.6L1022.5 191.9L1024.5 191.0L1026.5 191.7L1028.5 190.9L1030.5 191.0L1032.5 191.4L1034.5 190.5L1036.6 190.3L1038.6 190.8L1040.6 190.4L1042.6 189.8L1044.6 190.6L1046.6 190.9L1048.7 190.6L1050.7 191.0L1052.7 190.7L1054.7 191.5L1056.7 190.8L1058.7 192.8L1060.7 193.7L1062.7 194.8L1064.7 197.4L1066.7 196.5L1068.8 194.9L1070.8 194.6L1072.8 193.7L1074.8 194.2L1076.8 193.9L1078.8 193.8L1080.8 192.8L1082.8 193.2L1084.9 193.2L1086.9 192.6L1089.0 192.0L1091.0 191.9L1093.0 191.9L1095.0 192.0L1097.0 192.0L1099.0 192.1L1101.0 192.1L1103.0 192.1L1105.0 192.2L1107.0 192.2L1109.0 192.3L1111.0 192.3L1113.0 192.3L1114.9 192.2L1116.9 192.2L1118.9 192.1L1120.9 192.1L1122.8 192.0L1124.8 192.0L1126.8 192.0L1128.7 191.9L1130.7 191.9L1132.7 191.8L1134.7 191.8L1136.6 191.7L1138.6 192.1L1140.0 194.8L1142.0 200.0L1144.0 196.2L1146.0 202.2L1147.5 205.5L1149.0 202.5L1150.5 204.2L1152.0 202.1L1153.5 202.6L1155.0 198.2L1156.5 196.5L1158.0 192.8L1159.5 189.9L1160.5 191.5L1162.0 194.1L1164.0 198.3L1166.0 201.9L1167.5 199.4L1169.0 186.3L1170.5 178.6L1172.0 175.8L1174.0 182.7L1176.0 190.3" stroke="#2b2758"/><path d="M470.3 178.1L473.0 177.9L474.8 178.3L476.6 176.4L478.4 173.2L480.2 171.0L482.0 174.7L483.8 175.1L485.6 175.7L487.5 171.1L489.3 172.9L491.1 171.3L492.9 173.3L494.7 172.8L497.4 171.5L499.7 191.0L502.0 170.6L503.6 175.0L505.2 181.0L507.8 194.7L510.4 209.9L512.4 214.0L514.4 221.5L517.0 225.3L519.6 215.0L522.2 205.8L524.8 207.9L527.4 207.4L530.0 227.8L532.6 229.9L534.6 225.9L536.6 224.3L538.3 224.9L540.1 223.3L541.8 226.4L543.5 223.3L545.3 226.0L547.0 226.4L549.6 227.7L550.9 203.5L552.8 201.5L554.8 195.3L557.5 194.8L560.0 184.1" stroke="#2b2758" stroke-width="3.6"/><path d="M96.0 233.0L98.0 232.9L100.0 232.9L102.0 232.8L104.0 232.8L106.0 232.7L108.0 232.6L110.0 232.6L112.0 232.5L114.2 233.1L116.3 230.9L118.5 230.6L120.7 231.7L122.8 230.2L125.0 230.3L126.9 230.4L128.8 231.2L130.6 229.9L132.5 231.5L134.4 231.4L136.2 230.9L138.1 229.3L140.0 231.4L142.2 229.5L144.5 230.5L146.8 230.4L149.0 230.9L150.0 217.3L151.9 219.1L153.8 217.5L155.6 217.6L157.5 218.8L159.4 218.8L161.2 217.2L163.1 218.8L165.0 219.1L166.8 218.9L168.7 217.5L170.5 218.7L172.3 219.0L174.2 218.8L176.0 217.8L178.0 220.8L179.5 217.8L181.0 218.5L183.2 216.1L185.5 217.3L187.8 215.5L190.0 216.3L192.0 214.4L194.0 214.5L196.0 214.2L198.0 213.4L200.0 213.3L202.0 212.5L204.0 213.5L206.0 210.8L208.0 210.1L210.0 210.0L212.0 211.0L214.0 210.4L216.0 210.9L218.0 210.3L220.0 210.0L222.2 209.7L224.5 208.1L226.8 210.2L229.0 207.5L230.6 212.4L232.0 208.2L234.0 209.5L236.0 210.3L238.0 207.8L240.0 208.3L242.0 209.4L244.0 208.2L246.0 209.1L248.0 207.8L250.0 205.5L251.5 202.0L253.0 204.8L255.1 198.9L256.8 198.7L258.4 194.9L260.1 201.8L261.8 202.3L263.9 205.9L266.0 205.3L268.0 207.7L270.0 203.3L272.0 205.9L273.8 199.0L275.5 200.8L277.2 191.3L279.0 189.1L280.7 183.5L282.4 182.0L284.1 178.5L285.8 179.0L287.5 174.1L289.2 175.2L290.9 170.8L292.6 171.5L294.3 169.0L296.0 169.0L297.7 166.5L299.4 171.5L301.1 168.7L302.9 171.1L304.6 170.5L306.3 169.1L308.0 165.9L309.7 163.4L311.4 158.7L313.1 159.7L314.8 155.7L316.5 158.8L318.2 155.5L319.9 158.4L321.7 154.4L323.4 156.0L325.1 153.3L326.8 157.8L328.5 154.3L330.2 156.0L331.9 153.3L333.6 153.1L335.3 157.2L337.1 151.9L338.8 143.8L340.5 147.9L342.2 145.9L343.9 153.3L345.6 154.7L347.3 159.2L349.0 156.7L350.7 161.4L352.4 155.4L354.1 155.8L355.8 156.9L357.6 158.5L359.3 160.5L361.0 158.9L362.7 155.6L364.4 157.1L366.1 152.6L367.8 156.2L369.0 159.5L371.2 140.7L373.1 137.0L374.9 142.4L376.8 140.2L379.0 146.0L381.0 140.9L383.0 142.1L385.0 138.2L386.5 140.3L388.0 140.7L389.5 140.2L391.0 136.0L393.5 136.1L396.0 131.4L398.0 138.9L400.0 139.1L402.0 142.8L403.8 137.7L405.5 139.1L407.2 135.9L409.0 135.4L411.0 137.5L413.0 141.1L414.0 144.6L415.5 156.5L417.0 161.1L418.5 154.7L420.0 148.9L422.3 148.1L424.6 148.9L426.6 151.1L428.5 152.7L430.5 155.3L432.3 151.0L434.2 154.4L436.0 153.0L437.8 155.8L439.6 156.7L441.8 159.0L444.0 155.4L445.9 159.6L447.8 162.3L449.7 162.4L451.6 161.8L453.4 163.8L455.2 159.4L457.1 160.1L458.9 155.8L460.7 158.3L462.5 155.4L464.3 154.4L466.2 148.8L468.0 151.1L469.8 145.7L471.8 146.3L473.8 145.0L475.7 145.9L477.7 145.6L479.7 149.2L481.5 145.0L483.2 147.8L485.0 144.5L487.0 146.0L489.0 142.2L491.0 143.2L493.4 141.5L495.7 146.4L498.0 148.5L500.3 154.0L502.6 161.9L505.2 149.8L507.1 157.9L509.1 161.2L511.1 164.9L513.1 173.7L515.7 175.6L517.7 169.8L519.6 165.3L521.5 167.6L523.5 164.1L526.1 169.4L528.7 158.6L531.3 173.4L533.3 174.2L535.2 175.0L537.2 173.8L539.2 171.1L541.3 170.6L543.4 175.6L545.4 172.2L547.5 174.7L549.6 171.6L550.9 156.5L552.8 153.2L554.8 151.1L556.5 150.3L558.3 148.9L560.0 145.9L562.0 145.3L564.0 138.4L566.6 140.2L568.7 137.9L570.9 142.6L573.0 142.8L575.1 141.7L577.3 139.8L579.4 137.2L581.6 136.6L583.7 135.3L585.9 130.6L588.0 131.7L590.2 123.9L592.3 124.1L594.6 118.7L597.0 118.4L599.5 118.4L602.0 126.3L603.5 126.6L605.0 134.2L607.2 136.3L609.4 136.8L611.6 136.8L613.4 137.9L615.2 136.5L617.6 138.2L620.0 136.1L621.5 137.3L623.0 135.3L624.8 138.4L626.5 138.0L628.3 142.0L631.0 147.3L632.0 183.0L633.5 182.4L635.0 183.1L637.2 184.4L639.4 180.1L641.0 175.6L642.7 178.5L644.4 173.9L646.0 177.8L648.8 172.0L651.6 178.5L654.3 184.9L656.0 189.2L658.2 179.2L660.4 168.9L662.6 171.3L664.9 181.8L667.1 187.6L669.3 182.6L671.5 191.8L673.7 200.6L675.9 190.9L678.1 201.4L680.4 199.2L682.6 202.9L685.0 210.1L686.8 210.1L688.5 205.6L690.2 209.2L692.0 208.4L693.7 213.8L695.5 211.2L697.2 214.9L699.0 216.6L700.7 219.7L702.5 220.5L704.2 227.0L705.9 227.0L707.7 231.8L709.4 236.7L712.0 219.0L714.0 216.9L716.0 218.2L718.0 220.3L720.0 228.3L722.5 228.8L724.2 228.9L726.0 224.7L727.7 220.9L729.5 216.0L731.2 213.6L733.0 212.8L735.0 206.8L736.9 196.9L739.5 203.6L742.0 181.5L744.0 176.9L746.0 165.7L748.0 168.3L750.0 162.4L752.0 168.2L754.0 171.7L756.5 174.6L759.0 173.4L761.7 172.3L763.5 170.8L765.2 175.7L767.0 179.1L769.6 192.0L772.2 216.5L774.8 208.8L776.5 202.8L778.3 202.2L780.0 203.4L781.7 197.6L783.5 196.3L785.2 198.1L787.0 197.9L788.7 202.0L790.5 201.2L792.2 199.5L794.0 198.4L795.7 198.8L797.5 192.0L799.2 193.5L801.0 188.4L803.5 191.4L806.0 188.3L807.8 190.0L809.6 188.7L811.4 188.6L813.3 186.7L815.3 185.6L818.0 195.5L820.6 209.6L823.2 227.6L825.8 247.7L828.4 248.5L830.3 255.8L832.3 263.9L835.0 275.2L837.6 252.6L839.3 252.6L841.1 246.1L842.8 243.6L844.8 248.6L846.7 249.0L848.7 256.8L850.6 267.3L852.4 260.8L854.1 259.2L855.9 252.9L857.6 257.2L859.3 258.9L861.0 261.6L862.9 261.1L864.8 257.5L867.2 254.7L869.6 253.6L871.5 253.3L873.3 257.8L875.1 260.7L876.9 266.7L878.7 268.6L880.5 272.8L882.2 277.1L884.0 286.5L886.5 276.1L888.4 285.5L890.2 289.5L892.0 287.6L893.8 285.7L895.6 289.5L897.4 293.1L899.8 296.4L901.0 318.3L903.4 323.7L905.8 335.2L908.2 346.5L910.0 341.6L911.9 343.4L914.3 330.9L916.1 323.6L918.0 316.3L919.8 313.9L921.5 305.4L923.3 301.8L925.1 290.3L927.5 286.0L930.0 292.2L932.4 272.7L934.8 270.2L937.2 265.7L939.6 263.2L942.0 264.4L944.4 261.6L946.8 263.7L948.6 259.4L950.5 261.8L951.7 216.7L954.0 216.0L956.0 216.9L958.0 217.5L960.0 210.9L962.0 221.3L964.0 219.3L966.0 222.4L968.0 220.6L970.1 221.4L972.1 217.6L974.2 219.9L976.2 214.1L978.2 215.6L980.2 207.0L981.8 205.4L983.3 196.4L985.3 204.6L987.3 213.3L989.3 218.3L990.8 209.5L992.3 206.3L993.8 197.5L995.3 196.1L996.8 189.7L998.4 186.7L999.9 182.7L1001.4 184.5L1002.9 178.3L1004.4 176.9L1006.4 172.3L1008.4 173.3L1010.4 168.7L1012.4 173.3L1014.5 170.0L1016.5 174.4L1018.5 170.2L1020.5 171.3L1022.5 169.3L1024.5 172.2L1026.5 168.2L1028.5 170.6L1030.5 167.9L1031.5 178.0L1033.2 179.3L1034.9 181.8L1036.6 182.4L1038.6 182.2L1040.6 180.4L1042.6 184.3L1044.6 182.4L1046.6 182.1L1048.7 183.2L1050.7 186.6L1052.7 184.3L1054.7 185.9L1056.7 183.2L1058.7 184.5L1060.7 180.9L1062.7 182.6L1064.8 183.5L1066.8 188.0L1068.8 189.4L1070.8 188.1L1072.8 183.7L1074.8 184.7L1076.8 181.3L1078.8 184.3L1080.8 179.5L1082.9 180.4L1084.9 179.5L1086.9 180.6L1089.0 178.7L1091.0 179.0L1093.0 177.4L1095.0 179.2L1097.0 178.8L1099.0 178.4L1101.0 178.5L1103.2 178.5L1105.5 177.3L1107.8 178.1L1110.0 177.0L1111.0 170.5L1113.0 168.9L1115.0 169.3L1117.0 167.8L1119.0 169.2L1121.0 169.4L1123.1 170.6L1125.1 171.5L1127.1 171.9L1129.2 171.6L1131.2 172.9L1133.2 172.8L1135.0 173.2L1136.8 172.4L1138.6 174.0L1139.5 187.0L1142.0 198.1L1144.0 196.6L1146.0 200.1L1148.0 202.2L1150.0 204.4L1152.0 198.1L1153.5 196.3L1155.0 196.0L1156.5 196.2L1158.0 193.2L1159.5 194.6L1161.0 192.3L1163.5 197.7L1166.0 199.1L1168.0 191.5L1169.5 177.0L1171.0 177.9L1172.5 179.4L1174.0 187.9L1176.0 190.7" stroke="#4b64f0" stroke-width="3.1"/><path d="M373.1 137.0L374.9 142.4L376.8 140.2L379.0 146.0L381.0 140.9L383.0 142.1L385.0 138.2L386.5 140.3L388.0 140.7L389.5 140.2L391.0 136.0L393.5 136.1L396.0 131.4L398.0 138.9L400.0 139.1L402.0 142.8L403.8 137.7L405.5 139.1L407.2 135.9L409.0 135.4L411.0 137.5L413.0 141.1L414.0 144.6L415.5 156.5L417.0 161.1L418.5 154.7L420.0 148.9L422.3 148.1L424.6 148.9L426.6 151.1L428.5 152.7L430.5 155.3L432.3 151.0L434.2 154.4L436.0 153.0L437.8 155.8L439.6 156.7L441.8 159.0L444.0 155.4L445.9 159.6L447.8 162.3L449.7 162.4L451.6 161.8L453.4 163.8L455.2 159.4L457.1 160.1L458.9 155.8L460.7 158.3L462.5 155.4L464.3 154.4L466.2 148.8L468.0 151.1L469.8 145.7" stroke="#4b64f0" stroke-width="3.8"/><path d="M632.0 183.0L633.5 182.4L635.0 183.1L637.2 184.4L639.4 180.1L641.0 175.6L642.7 178.5L644.4 173.9L646.0 177.8L648.8 172.0L651.6 178.5L654.3 184.9L656.0 189.2L658.2 179.2L660.4 168.9L662.6 171.3L664.9 181.8L667.1 187.6L669.3 182.6L671.5 191.8L673.7 200.6L675.9 190.9L678.1 201.4L680.4 199.2L682.6 202.9L685.0 210.1L686.8 210.1L688.5 205.6L690.2 209.2L692.0 208.4L693.7 213.8L695.5 211.2L697.2 214.9L699.0 216.6L700.7 219.7L702.5 220.5L704.2 227.0L705.9 227.0L707.7 231.8L709.4 236.7L712.0 219.0" stroke="#4b64f0" stroke-width="3.8"/><path d="M823.2 227.6L825.8 247.7L828.4 248.5L830.3 255.8L832.3 263.9L835.0 275.2L837.6 252.6L839.3 252.6L841.1 246.1" stroke="#4b64f0" stroke-width="5.5"/><path d="M842.8 243.6L844.8 248.6L846.7 249.0L848.7 256.8L850.6 267.3L852.4 260.8L854.1 259.2L855.9 252.9L857.6 257.2L859.3 258.9L861.0 261.6L862.9 261.1L864.8 257.5L867.2 254.7L869.6 253.6L871.5 253.3L873.3 257.8L875.1 260.7L876.9 266.7L878.7 268.6L880.5 272.8L882.2 277.1L884.0 286.5L886.5 276.1L888.4 285.5L890.2 289.5L892.0 287.6L893.8 285.7L895.6 289.5L897.4 293.1L899.8 296.4" stroke="#4b64f0" stroke-width="4.3"/><path d="M901.0 318.3L903.4 323.7L905.8 335.2L908.2 346.5L910.0 341.6L911.9 343.4L914.3 330.9L916.1 323.6L918.0 316.3L919.8 313.9L921.5 305.4L923.3 301.8L925.1 290.3L927.5 286.0L930.0 292.2L932.4 272.7L934.8 270.2" stroke="#4b64f0" stroke-width="4.0"/><path d="M951.7 216.7L954.0 216.0L956.0 216.9L958.0 217.5L960.0 210.9L962.0 221.3L964.0 219.3L966.0 222.4L968.0 220.6L970.1 221.4L972.1 217.6L974.2 219.9L976.2 214.1L978.2 215.6L980.2 207.0L981.8 205.4L983.3 196.4L985.3 204.6L987.3 213.3L989.3 218.3" stroke="#4b64f0" stroke-width="4.0"/><path d="M1138.6 174.0L1139.5 187.0L1142.0 198.1L1144.0 196.6L1146.0 200.1L1148.0 202.2L1150.0 204.4L1152.0 198.1L1153.5 196.3L1155.0 196.0L1156.5 196.2L1158.0 193.2L1159.5 194.6L1161.0 192.3L1163.5 197.7L1166.0 199.1L1168.0 191.5L1169.5 177.0" stroke="#4b64f0" stroke-width="4.0"/><path d="M1138.6 191.7L1140.0 196.0L1142.0 199.0L1144.0 195.8L1146.0 201.5L1147.5 204.1L1149.0 202.7L1150.5 206.1L1152.0 202.0L1153.5 202.2L1155.0 199.4L1156.5 196.4L1158.0 192.4L1159.5 189.3L1160.5 192.4L1162.0 195.5L1164.0 199.1L1166.0 199.7L1167.5 199.7L1169.0 186.5L1170.5 179.0L1172.0 175.8L1174.0 181.9L1176.0 189.2" stroke="#2b2758"/><path d="M1138.6 191.7L1140.0 196.0L1142.0 199.0L1144.0 195.8L1146.0 201.5L1147.5 204.1L1149.0 202.7L1150.5 206.1L1152.0 202.0L1153.5 202.2L1155.0 199.4L1156.5 196.4L1158.0 192.4L1159.5 189.3L1160.5 192.4L1162.0 195.5L1164.0 199.1L1166.0 199.7L1167.5 199.7L1169.0 186.5" stroke="#2b2758" stroke-width="4.0"/><path d="M96.0 233.0L98.0 233.0L100.0 233.0L102.0 233.0L104.0 233.0L106.0 233.0L108.0 233.0L110.0 233.0L112.0 233.0L114.2 232.0L116.3 231.5L118.5 231.1L120.7 232.5L122.8 230.7L125.0 232.2L127.0 231.1L129.0 232.2L131.0 230.3L133.0 230.4L135.0 230.3L137.0 230.8L139.0 230.6L141.0 232.2L143.0 230.6L145.0 230.2L147.0 230.1L149.0 232.1L150.0 226.1L152.0 227.1L154.0 225.5L156.0 227.7L158.0 225.6L160.0 227.1L162.0 227.3L164.0 227.1L166.0 225.5L168.0 227.1L170.0 227.6L172.0 226.0L174.0 226.1L176.0 227.9L178.4 228.9L180.8 228.2L183.1 225.8L185.3 225.4L187.1 225.1L188.9 226.9L190.7 226.3L192.5 227.6L194.4 227.5L196.2 226.6L198.0 224.5L199.8 223.8L202.1 222.1L204.3 220.2L206.6 223.9L208.8 229.0L210.7 225.3L212.5 224.6L214.3 222.7L216.1 222.9L217.9 221.8L220.0 222.4L222.1 219.9L224.2 218.5L226.1 216.9L227.9 217.3L229.7 221.6L231.5 224.7L233.8 222.0L236.0 223.0L237.8 222.0L239.6 221.1L241.4 218.7L244.2 223.1L246.4 220.5L248.7 220.7L250.9 216.6L253.2 218.1L254.6 215.6L255.1 157.1L257.0 159.1L258.4 171.3L260.0 163.1L261.8 177.9L264.0 181.4L266.0 183.8L268.7 183.9L271.0 182.1L273.0 181.8L275.5 181.2L278.0 174.0L280.6 163.4L283.0 164.0L285.0 158.9L287.5 154.0L289.0 160.8L290.9 163.1L293.0 161.3L294.5 156.8L296.0 156.8L298.0 157.7L299.6 161.2L301.2 157.5L304.0 154.5L306.3 154.7L308.0 154.1L309.7 144.6L311.4 143.4L314.0 148.1L316.5 150.5L318.2 147.4L320.0 149.5L321.7 147.1L323.4 151.2L325.1 146.4L326.8 145.7L328.5 141.6L330.2 143.0L331.9 149.6L333.6 145.6L335.3 142.0L337.9 147.9L339.6 159.4L342.2 166.9L343.9 167.0L345.6 170.0L347.3 170.1L349.0 175.9L350.7 173.4L352.4 173.6L354.1 169.9L355.8 170.8L357.6 167.6L359.3 168.7L361.0 169.1L362.7 172.2L364.4 177.7L366.1 166.9L369.0 167.3L369.6 157.4L370.3 216.9L371.5 204.4L373.0 214.5L374.5 203.2L376.3 213.1L377.0 209.5L379.3 195.3L380.0 253.6L381.6 231.4L383.9 235.7L386.1 226.7L387.6 230.6L389.1 237.8L391.4 217.1L393.7 213.1L395.9 221.0L398.2 225.9L399.7 223.3L401.2 213.8L402.7 213.0L404.2 210.1L405.7 204.4L407.2 195.5L408.8 204.8L410.3 208.6L411.8 215.2L413.3 214.1L414.8 215.2L416.3 210.9L417.8 222.7L419.3 226.8L420.8 223.4L422.3 218.7L423.8 227.2L425.3 235.3L426.9 240.8L428.4 241.5L429.9 246.4L431.4 228.2L433.2 230.8L435.0 232.6L436.5 228.5L438.6 225.9L440.4 232.9L442.2 239.8L444.0 242.1L445.9 242.1L448.6 237.3L451.3 240.8L454.0 226.4L456.7 225.3L459.4 234.3L462.1 224.7L463.9 228.9L465.7 232.8L467.5 229.5L469.4 226.6L471.2 227.8L473.0 221.1L474.8 223.6L476.6 220.2L478.4 220.6L480.2 219.6L482.0 224.3L483.8 219.4L485.7 222.1L487.5 218.5L489.3 215.2L491.1 213.3L493.8 214.9L496.5 216.9L498.3 229.9L499.5 242.4L500.6 269.2L503.0 249.1L504.6 246.6L506.3 242.9L509.0 253.5L510.5 259.0L512.0 270.3L514.3 254.3L516.7 275.6L518.7 265.4L520.7 260.6L522.8 262.1L524.8 269.7L527.6 254.5L530.4 260.6L532.4 260.4L534.3 261.1L536.3 260.4L538.2 260.8L540.2 260.5L542.2 260.8L544.1 260.5L546.1 260.9L548.0 261.0L550.0 261.0L551.5 256.8L553.2 256.8L555.0 254.9L557.5 255.3L560.0 252.6L561.5 253.5L563.0 250.4L564.5 252.7L566.0 252.4L567.5 251.0L569.0 246.4L571.0 256.0L573.0 245.8L575.0 251.0L576.6 265.1L578.0 245.8L579.7 237.3L581.2 241.2L583.2 246.6L585.2 243.4L586.7 246.4L588.2 251.2L590.2 242.5L592.2 238.0L594.2 235.3L596.3 231.9L598.3 231.1L600.3 238.6L602.3 253.6L603.8 260.2L605.3 251.0L607.3 259.3L609.3 262.7L611.3 257.3L612.8 257.1L614.4 257.5L616.4 257.3L618.4 257.9L620.4 257.9L622.4 258.0L624.4 258.4L626.4 258.4L627.9 259.8L629.4 262.7L630.8 287.2L633.0 294.0L634.8 299.6L636.6 306.5L638.3 297.4L640.0 296.2L642.4 292.1L644.7 295.9L646.4 289.4L648.0 290.5L649.8 291.2L651.6 294.0L654.0 297.6L656.3 302.9L658.6 314.6L661.0 292.9L663.2 296.3L665.5 300.1L667.8 300.6L670.0 303.2L672.4 308.2L674.8 311.6L677.1 320.2L679.4 321.9L681.7 312.5L684.0 316.9L686.4 317.2L688.1 322.8L689.8 323.0L691.5 324.3L693.3 320.8L695.6 325.8L698.0 328.9L700.2 332.2L702.5 330.4L704.9 337.6L707.2 337.8L709.5 347.7L711.8 324.1L714.1 329.4L716.4 330.1L718.7 334.2L721.0 337.5L723.4 337.9L725.7 330.9L728.0 328.0L730.3 325.1L732.2 325.2L734.1 319.4L736.0 318.5L737.8 319.8L739.6 329.0L741.9 327.9L744.2 331.8L746.5 330.2L748.8 333.9L751.1 330.5L753.4 334.4L755.1 329.2L756.9 331.8L758.6 331.8L760.4 329.4L762.3 327.0L764.3 328.5L766.2 324.0L767.9 331.7L769.6 332.6L772.0 332.3L774.3 333.0L776.6 336.2L778.9 333.8L781.2 333.1L783.1 334.3L784.9 337.4L786.8 335.2L788.8 338.2L790.9 333.7L792.9 332.8L795.0 330.5L797.0 332.6L799.1 330.2L801.2 333.2L803.2 332.3L805.3 333.6L807.4 329.2L809.2 332.6L811.0 332.9L812.7 332.1L814.5 332.4L817.2 334.2L819.0 337.0L820.9 348.2L822.7 360.7L824.5 372.2L826.3 380.4L828.1 387.9L829.9 389.3L832.6 386.1L835.4 377.9L838.1 379.7L839.9 371.9L842.6 371.2L843.5 363.1L846.2 367.4L848.9 369.6L850.7 381.8L853.5 370.5L856.2 361.9L857.4 370.3L859.8 377.4L862.5 381.1L865.2 376.7L868.0 371.2L870.7 364.7L873.4 354.9L875.2 367.4L877.9 373.7L880.6 379.0L883.3 384.7L886.1 383.5L887.9 387.0L889.7 387.2L891.5 364.4L892.4 394.2L895.1 395.2L896.5 397.2L898.6 398.2L899.6 428.4L901.0 422.0L902.2 407.4L904.0 413.7L906.8 426.4L908.6 426.1L911.3 437.7L914.0 421.0L916.3 435.1L917.8 423.3L919.4 416.4L922.1 413.1L924.9 408.3L927.1 404.1L929.4 417.2L932.1 410.2L934.8 408.5L937.4 407.8L940.0 406.6L942.1 405.8L944.3 408.5L947.2 401.6L949.2 406.8L951.3 404.3L952.1 378.4L954.1 378.3L956.1 376.6L957.7 374.9L959.3 375.1L960.9 377.4L962.5 381.0L965.0 379.7L967.4 380.1L969.8 380.1L972.2 380.8L973.8 379.2L976.2 382.3L978.2 384.2L980.3 387.1L981.9 375.8L983.5 362.0L985.1 362.9L986.7 365.7L989.1 367.6L990.7 375.2L993.1 363.7L994.8 363.9L996.4 362.1L998.0 360.8L999.6 358.1L1002.0 362.9L1004.4 354.2L1006.8 355.5L1009.2 352.6L1011.7 353.6L1014.1 354.9L1016.2 357.6L1018.4 355.7L1020.5 356.1L1022.1 357.7L1023.7 356.9L1025.6 354.5L1027.5 355.9L1029.4 354.2L1031.8 364.5L1034.2 365.0L1036.6 368.6L1039.3 366.8L1041.4 367.9L1043.5 368.1L1045.6 369.0L1047.7 367.7L1049.8 369.4L1051.6 368.5L1053.5 370.8L1055.3 370.7L1057.2 369.1L1059.0 372.3L1061.0 377.3L1062.9 382.6L1064.6 384.9L1066.4 387.6L1068.1 389.7L1069.8 387.2L1071.6 387.2L1073.3 384.4L1075.3 383.1L1077.2 377.3L1079.2 375.1L1081.2 371.6L1083.3 370.9L1085.4 369.6L1087.4 370.3L1089.5 367.9L1091.6 369.5L1093.7 367.2L1095.8 369.1L1097.8 367.0L1099.9 367.3L1102.0 366.7L1104.0 367.8L1106.0 366.5L1108.0 367.4L1110.0 364.6L1112.5 358.9L1114.6 357.3L1116.7 359.5L1118.8 357.7L1120.9 359.5L1123.0 358.5L1124.7 359.1L1126.5 356.3L1128.2 356.6L1130.3 355.7L1132.4 355.1L1134.5 355.6L1136.6 357.2L1138.7 356.4L1141.3 381.4L1143.0 382.6L1144.8 390.0L1146.5 392.3L1148.5 400.9L1150.5 402.8L1152.5 399.8L1154.4 389.8L1156.1 390.4L1157.9 385.9L1159.6 382.2L1161.6 379.1L1163.5 377.5L1165.5 381.4L1167.5 380.4L1169.4 376.7L1171.2 380.2L1173.1 378.3L1175.0 382.5" stroke="#6a0fdc" stroke-width="3.5"/><path d="M370.3 216.9L371.5 204.4L373.0 214.5L374.5 203.2L376.3 213.1L377.0 209.5L379.3 195.3L380.0 253.6L381.6 231.4L383.9 235.7L386.1 226.7L387.6 230.6L389.1 237.8L391.4 217.1L393.7 213.1L395.9 221.0L398.2 225.9L399.7 223.3L401.2 213.8L402.7 213.0L404.2 210.1L405.7 204.4L407.2 195.5L408.8 204.8L410.3 208.6L411.8 215.2L413.3 214.1L414.8 215.2L416.3 210.9L417.8 222.7L419.3 226.8L420.8 223.4L422.3 218.7L423.8 227.2L425.3 235.3L426.9 240.8L428.4 241.5L429.9 246.4L431.4 228.2L433.2 230.8L435.0 232.6L436.5 228.5L438.6 225.9L440.4 232.9L442.2 239.8L444.0 242.1L445.9 242.1L448.6 237.3L451.3 240.8L454.0 226.4L456.7 225.3L459.4 234.3L462.1 224.7L463.9 228.9L465.7 232.8L467.5 229.5L469.4 226.6L471.2 227.8L473.0 221.1L474.8 223.6L476.6 220.2L478.4 220.6L480.2 219.6L482.0 224.3L483.8 219.4L485.7 222.1L487.5 218.5L489.3 215.2L491.1 213.3L493.8 214.9L496.5 216.9L498.3 229.9L499.5 242.4" stroke="#6a0fdc" stroke-width="4.0"/><path d="M498.3 229.9L499.5 242.4L500.6 269.2L503.0 249.1L504.6 246.6L506.3 242.9L509.0 253.5L510.5 259.0L512.0 270.3L514.3 254.3L516.7 275.6L518.7 265.4L520.7 260.6L522.8 262.1L524.8 269.7L527.6 254.5" stroke="#6a0fdc" stroke-width="4.0"/><path d="M630.8 287.2L633.0 294.0L634.8 299.6L636.6 306.5L638.3 297.4L640.0 296.2L642.4 292.1L644.7 295.9L646.4 289.4L648.0 290.5L649.8 291.2L651.6 294.0L654.0 297.6L656.3 302.9L658.6 314.6L661.0 292.9L663.2 296.3L665.5 300.1L667.8 300.6L670.0 303.2L672.4 308.2L674.8 311.6L677.1 320.2L679.4 321.9L681.7 312.5L684.0 316.9L686.4 317.2L688.1 322.8L689.8 323.0L691.5 324.3L693.3 320.8L695.6 325.8L698.0 328.9L700.2 332.2L702.5 330.4L704.9 337.6L707.2 337.8L709.5 347.7L711.8 324.1L714.1 329.4L716.4 330.1L718.7 334.2L721.0 337.5L723.4 337.9L725.7 330.9L728.0 328.0" stroke="#6a0fdc" stroke-width="4.0"/><path d="M820.9 348.2L822.7 360.7L824.5 372.2L826.3 380.4L828.1 387.9L829.9 389.3L832.6 386.1L835.4 377.9L838.1 379.7L839.9 371.9L842.6 371.2L843.5 363.1L846.2 367.4L848.9 369.6L850.7 381.8L853.5 370.5L856.2 361.9L857.4 370.3L859.8 377.4L862.5 381.1L865.2 376.7L868.0 371.2L870.7 364.7L873.4 354.9L875.2 367.4L877.9 373.7L880.6 379.0L883.3 384.7L886.1 383.5L887.9 387.0L889.7 387.2L891.5 364.4L892.4 394.2L895.1 395.2L896.5 397.2L898.6 398.2L899.6 428.4" stroke="#6a0fdc" stroke-width="4.2"/><path d="M895.1 395.2L896.5 397.2L898.6 398.2L899.6 428.4L901.0 422.0L902.2 407.4L904.0 413.7L906.8 426.4L908.6 426.1L911.3 437.7L914.0 421.0L916.3 435.1L917.8 423.3L919.4 416.4L922.1 413.1L924.9 408.3L927.1 404.1L929.4 417.2L932.1 410.2L934.8 408.5L937.4 407.8L940.0 406.6L942.1 405.8L944.3 408.5L947.2 401.6L949.2 406.8" stroke="#6a0fdc" stroke-width="4.5"/></g>
<g stroke="#7236c4" stroke-width="2"><line x1="96" y1="112.7" x2="96" y2="439.9"/><line x1="96" y1="439.9" x2="1191" y2="439.9"/></g>
<g fill="#9000f5"><circle cx="96" cy="112.7" r="3.6"/><circle cx="96" cy="194.5" r="3.6"/><circle cx="96" cy="276.3" r="3.6"/><circle cx="96" cy="358.1" r="3.6"/><circle cx="96" cy="439.9" r="3.6"/><circle cx="257.2" cy="439.9" r="3.6"/><circle cx="441.3" cy="439.9" r="3.6"/><circle cx="624.6" cy="439.9" r="3.6"/><circle cx="810.8" cy="439.9" r="3.6"/><circle cx="1002.9" cy="439.9" r="3.6"/><circle cx="1190.9" cy="439.9" r="3.6"/></g>
<g fill="#fff" font-size="16">
<g><rect x="1190" y="180.8" width="151" height="24" rx="12" fill="#f0703c"/><circle cx="1190.5" cy="192.8" r="22" fill="#f0703c"/></g>
<g><rect x="1190" y="184.5" width="151" height="24" rx="12" fill="#4f6bf5"/><circle cx="1190.5" cy="196.5" r="22" fill="#4f6bf5"/></g>
<g><rect x="1190" y="190.0" width="151" height="24" rx="12" fill="#352f6a"/><circle cx="1190.5" cy="202.0" r="22" fill="#352f6a"/><circle cx="1191" cy="203" r="22" fill="#000"/><path d="M1195.1 195.0 A9 9 0 0 0 1181.5 206.4" fill="none" stroke="#fff" stroke-width="2.7"/><path d="M1205.3 188.2 L1193.6 201.2 L1200.9 203.8 Z" fill="#fff"/><text x="1227.4" y="208.0" textLength="89.0" lengthAdjust="spacingAndGlyphs" stroke="#fff" stroke-width="0.45">$103645.58</text></g>
<g><rect x="1190" y="211.5" width="151" height="24" rx="12" fill="#1fa37c"/><circle cx="1190.5" cy="223.5" r="22" fill="#1fa37c"/><path transform="translate(1190.6 223.2) scale(1.2) translate(-12 -12)" fill="#f2fffa" stroke="#f2fffa" stroke-width="0.35" d="M22.2819 9.8211a5.9847 5.9847 0 0 0-.5157-4.9108 6.0462 6.0462 0 0 0-6.5098-2.9A6.0651 6.0651 0 0 0 4.9807 4.1818a5.9847 5.9847 0 0 0-3.9977 2.9 6.0462 6.0462 0 0 0 .7427 7.0966 5.98 5.98 0 0 0 .511 4.9107 6.051 6.051 0 0 0 6.5146 2.9001A5.9847 5.9847 0 0 0 13.2599 24a6.0557 6.0557 0 0 0 5.7718-4.2058 5.9894 5.9894 0 0 0 3.9977-2.9001 6.0557 6.0557 0 0 0-.7475-7.0729zm-9.022 12.6081a4.4755 4.4755 0 0 1-2.8764-1.0408l.1419-.0804 4.7783-2.7582a.7948.7948 0 0 0 .3927-.6813v-6.7369l2.02 1.1686a.071.071 0 0 1 .038.052v5.5826a4.504 4.504 0 0 1-4.4945 4.4944zm-9.6607-4.1254a4.4708 4.4708 0 0 1-.5346-3.0137l.142.0852 4.783 2.7582a.7712.7712 0 0 0 .7806 0l5.8428-3.3685v2.3324a.0804.0804 0 0 1-.0332.0615L9.74 19.9502a4.4992 4.4992 0 0 1-6.1408-1.6464zM2.3408 7.8956a4.485 4.485 0 0 1 2.3655-1.9728V11.6a.7664.7664 0 0 0 .3879.6765l5.8144 3.3543-2.0201 1.1685a.0757.0757 0 0 1-.071 0l-4.8303-2.7865A4.504 4.504 0 0 1 2.3408 7.872zm16.5963 3.8558L13.1038 8.364 15.1192 7.2a.0757.0757 0 0 1 .071 0l4.8303 2.7913a4.4944 4.4944 0 0 1-.6765 8.1042v-5.6772a.79.79 0 0 0-.407-.667zm2.0107-3.0231l-.142-.0852-4.7735-2.7818a.7759.7759 0 0 0-.7854 0L9.409 9.2297V6.8974a.0662.0662 0 0 1 .0284-.0615l4.8303-2.7866a4.4992 4.4992 0 0 1 6.6802 4.66zM8.3065 12.863l-2.02-1.1638a.0804.0804 0 0 1-.038-.0567V6.0742a4.4992 4.4992 0 0 1 7.3757-3.4537l-.142.0805L8.704 5.459a.7948.7948 0 0 0-.3927.6813zm1.0976-2.3654l2.602-1.4998 2.6069 1.4998v2.9994l-2.5974 1.4997-2.6067-1.4997Z"/><text x="1227.4" y="229.5" textLength="75.0" lengthAdjust="spacingAndGlyphs" stroke="#fff" stroke-width="0.45">$101137.81</text></g>
<g><rect x="1190" y="308.8" width="151" height="24" rx="12" fill="#3aa1f2"/><circle cx="1190.5" cy="320.8" r="22" fill="#3aa1f2"/><path fill="#fff" d="M1190.5 306.2 Q1193.2 318.1 1204.4 321 Q1193.2 323.9 1190.5 335.7 Q1187.8 323.9 1176.6 321 Q1187.8 318.1 1190.5 306.2 Z"/><text x="1227.4" y="326.8" textLength="80.0" lengthAdjust="spacingAndGlyphs" stroke="#fff" stroke-width="0.45">$89831.63</text></g>
<g><rect x="1190" y="368.7" width="151" height="24" rx="12" fill="#6a0fdc"/><circle cx="1190.5" cy="380.7" r="22" fill="#6a0fdc"/><g transform="translate(1191 381) scale(0.98)"><path fill="#fff" d="M-4.14 -14.00 L0.08 -14.00 L2.34 -10.30 L9.66 -10.30 L11.90 -6.70 L10.60 -3.40 L14.19 3.41 L12.08 7.07 L7.75 7.18 L4.09 13.52 L-0.15 13.66 L-2.36 10.88 L-10.05 10.59 L-12.16 6.93 L-10.09 3.12 L-13.75 -3.22 L-11.75 -6.96 L-8.24 -7.48 Z"/><path fill="#6a0fdc" d="M-4.70 -6.40 L13.50 -6.40 L13.50 -3.70 L-3.10 -3.70 Z"/><path fill="#6a0fdc" d="M7.89 -0.87 L-1.21 14.89 L-3.55 13.54 L4.75 -0.83 Z"/><path fill="#6a0fdc" d="M-3.19 7.27 L-12.29 -8.49 L-9.95 -9.84 L-1.65 4.53 Z"/></g><text x="1227.4" y="386.7" textLength="82.0" lengthAdjust="spacingAndGlyphs" stroke="#fff" stroke-width="0.45">$82881.40</text></g>
</g>
</svg>
</body></html>
